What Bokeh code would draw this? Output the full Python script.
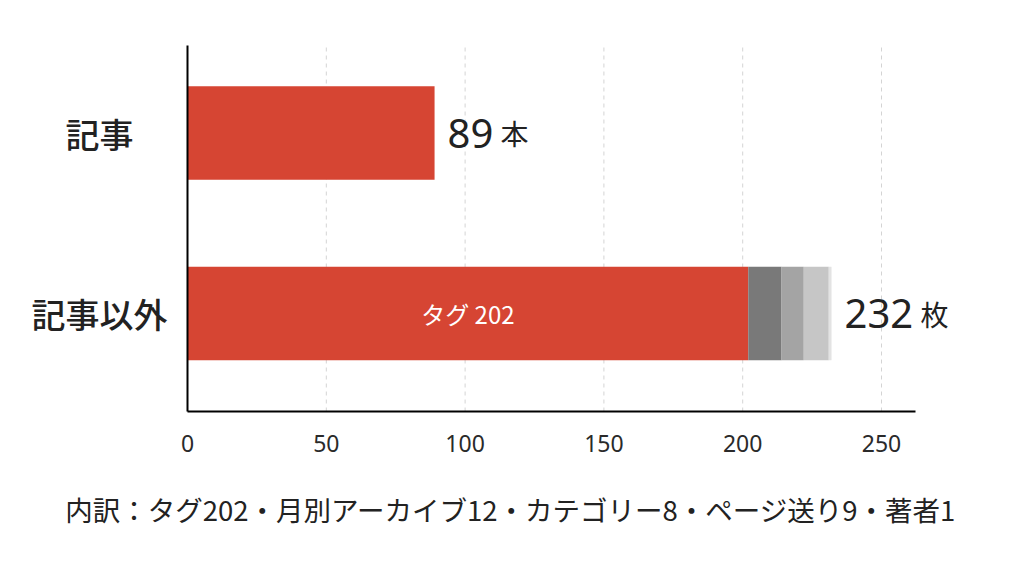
from bokeh.plotting import figure
from bokeh.models import Range1d, FixedTicker, LabelSet, Label, ColumnDataSource
from bokeh.core.properties import value
from bokeh.embed import file_html
from bokeh.resources import INLINE

# ---- data ----
categories = ["記事", "記事以外"]          # top to bottom
article_values = [89]
other_names = ["タグ", "月別アーカイブ", "カテゴリー", "ページ送り", "著者"]
other_values = [202, 12, 8, 9, 1]
units = ["本", "枚"]
x_ticks = [0, 50, 100, 150, 200, 250]

# ---- styles ----
RED = "#d64533"
other_colors = [RED, "#797979", "#a4a4a4", "#c6c6c6", "#e3e3e3"]
CJK = "Noto Sans CJK JP"
CJK_MED = "Noto Sans CJK JP Medium"
LATIN = "Noto Sans"
INK = "#222222"

W, H = 1008, 560
# pixel geometry of the drawing area (frame covers whole figure)
PX_X0, PX_PER_X = 187, 2.776          # x=0 position, px per unit
PX_Y1, PX_Y0 = 132.5, 313.0           # pixel rows of the two category centres
PX_PER_Y = PX_Y0 - PX_Y1
AX_TOP_PX, AX_BOT_PX, AX_RIGHT_PX = 45, 411, 915

x_start = -PX_X0 / PX_PER_X
x_end = (W - PX_X0) / PX_PER_X
y_top = 1 + PX_Y1 / PX_PER_Y
y_bot = -(H - PX_Y0) / PX_PER_Y
axis_y = -(AX_BOT_PX - PX_Y0) / PX_PER_Y
axis_top = 1 + (PX_Y1 - AX_TOP_PX) / PX_PER_Y
axis_xmax = (AX_RIGHT_PX - PX_X0) / PX_PER_X

ypos = [len(categories) - 1 - i for i in range(len(categories))]
totals = [sum(article_values), sum(other_values)]

p = figure(width=W, height=H,
           x_range=Range1d(x_start, x_end), y_range=Range1d(y_bot, y_top),
           output_backend="svg", toolbar_location=None,
           min_border_left=0, min_border_right=0,
           min_border_top=0, min_border_bottom=0)
p.outline_line_color = None
p.background_fill_color = "white"
p.border_fill_color = "white"

# axes drawn at fixed positions inside the frame
p.xaxis.fixed_location = axis_y
p.xaxis.bounds = (0, axis_xmax)
p.xaxis.ticker = FixedTicker(ticks=x_ticks)
p.xaxis.major_tick_line_color = None
p.xaxis.minor_tick_line_color = None
p.xaxis.axis_line_color = "black"
p.xaxis.axis_line_width = 2
p.xaxis.major_label_text_font = LATIN
p.xaxis.major_label_text_font_size = "23px"
p.xaxis.major_label_text_color = "#2a2a2a"
p.xaxis.major_label_standoff = 17

p.yaxis.fixed_location = 0
p.yaxis.bounds = (axis_y, axis_top)
p.yaxis.ticker = FixedTicker(ticks=[])
p.yaxis.major_tick_line_color = None
p.yaxis.minor_tick_line_color = None
p.yaxis.major_label_text_font_size = "0px"
p.yaxis.axis_line_color = "black"
p.yaxis.axis_line_width = 2

# grid: dashed vertical lines between the axes
p.ygrid.visible = False
p.xgrid.visible = False
p.segment(x0=x_ticks[1:], x1=x_ticks[1:], y0=[axis_y] * (len(x_ticks) - 1),
          y1=[axis_top] * (len(x_ticks) - 1), line_color="#d4d4d4",
          line_dash="4 4", line_width=1, level="underlay")

# bars
BAR_H = 0.518
p.hbar(y=[ypos[0]] * len(article_values), left=[0] * len(article_values),
       right=article_values, height=BAR_H, fill_color=RED, line_color=None)

lefts, rights, acc = [], [], 0
for v in other_values:
    lefts.append(acc)
    acc += v
    rights.append(acc)
p.hbar(y=[ypos[1]] * len(other_values), left=lefts, right=rights,
       height=BAR_H, fill_color=other_colors, line_color=None)

# category labels
cat_src = ColumnDataSource(dict(x=[0] * len(categories), y=ypos, text=categories))
p.add_layout(LabelSet(x="x", y="y", text="text", source=cat_src, x_offset=-88,
                      text_align="center", text_baseline="middle",
                      text_font=value(CJK_MED), text_font_size="34px",
                      text_color=INK))

# total labels (number + unit)
NUM_OFF = 13
num_src = ColumnDataSource(dict(
    x=totals, y=ypos, text=[str(t) for t in totals], unit=units,
    unit_off=[NUM_OFF + 23 * len(str(t)) + 7 for t in totals]))
p.add_layout(LabelSet(x="x", y="y", text="text", source=num_src, x_offset=NUM_OFF,
                      text_align="left", text_baseline="middle",
                      text_font=value(LATIN), text_font_size="40px", text_color=INK))
p.add_layout(LabelSet(x="x", y="y", text="unit", source=num_src, x_offset="unit_off",
                      text_align="left", text_baseline="middle",
                      text_font=value(CJK), text_font_size="28px", text_color=INK))

# inner label on first segment
p.add_layout(Label(x=(lefts[0] + rights[0]) / 2, y=ypos[1],
                   text=f"{other_names[0]} {other_values[0]}",
                   text_align="center", text_baseline="middle",
                   text_font=CJK, text_font_size="24px", text_color="white"))

# footer
footer = "内訳：" + "・".join(f"{n}{v}" for n, v in zip(other_names, other_values))
p.add_layout(Label(x=0, y=axis_y, x_offset=323, y_offset=-97, text=footer,
                   text_align="center", text_baseline="middle",
                   text_font=CJK, text_font_size="27.5px", text_color=INK))

open("out.html", "w").write(file_html(p, INLINE))
